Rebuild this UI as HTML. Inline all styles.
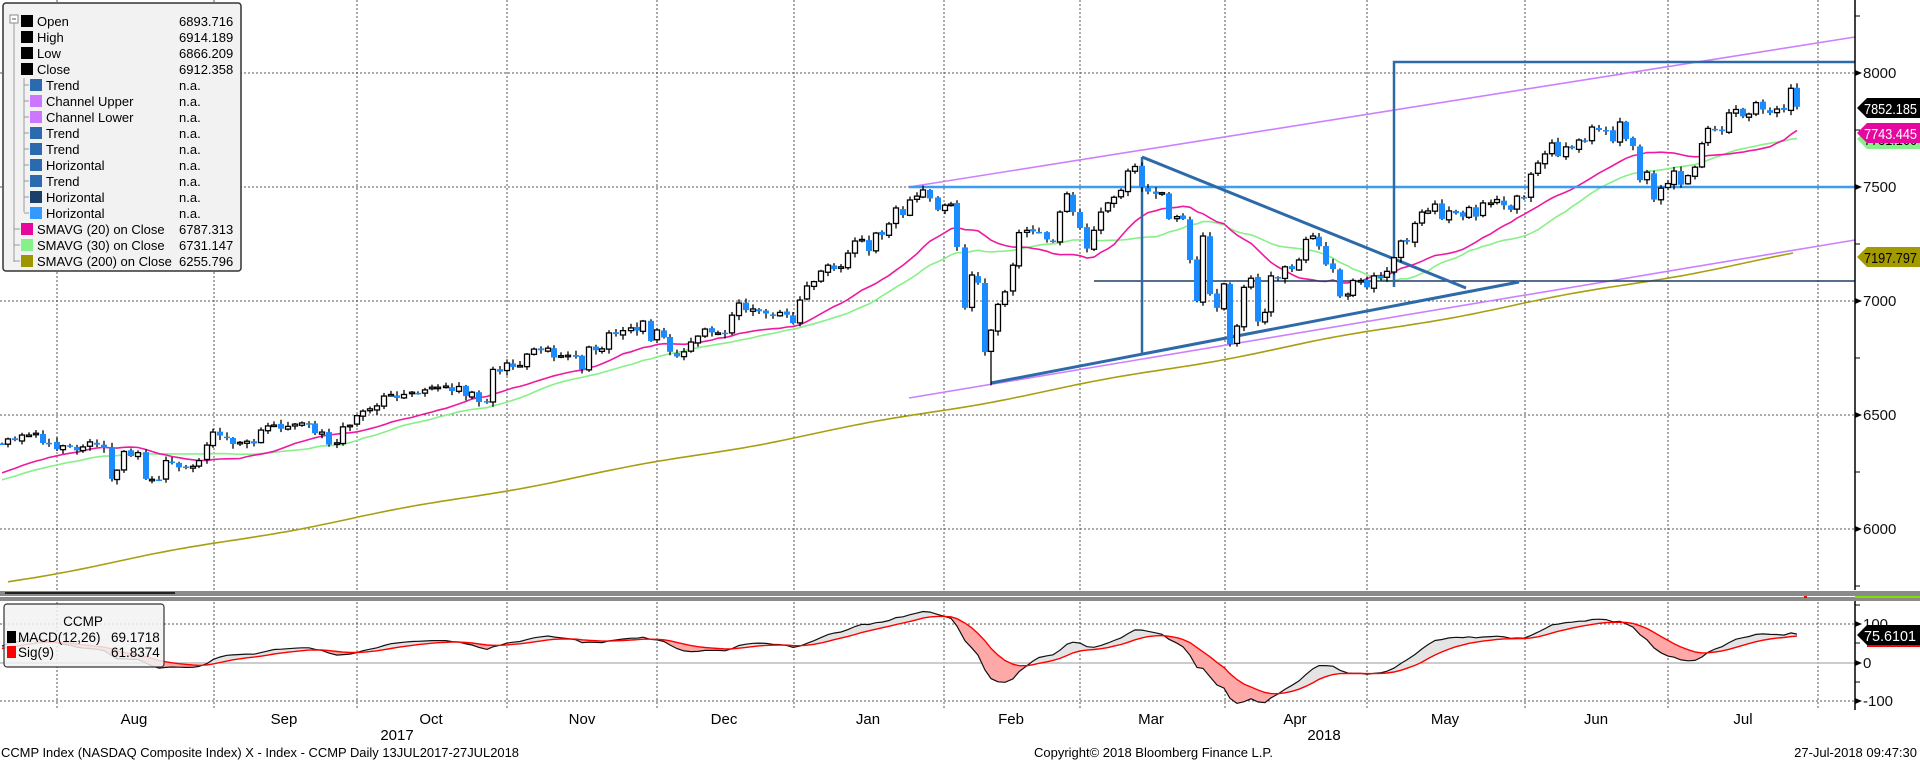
<!DOCTYPE html>
<html><head><meta charset="utf-8">
<style>
html,body{margin:0;padding:0;background:#fff;}
#w{position:relative;width:1920px;height:761px;overflow:hidden;background:#fff;font-family:"Liberation Sans",sans-serif;}
svg text{font-family:"Liberation Sans",sans-serif;}
</style></head>
<body><div id="w"><svg id="c" width="1920" height="761" xmlns="http://www.w3.org/2000/svg"></svg></div>
<script>
const K=[[2,6373],[8,6395],[15,6390],[22,6412],[29,6412],[36,6420],[43,6377],[49,6377],[57,6350],[63,6365],[70,6365],[77,6345],[83,6360],[90,6382],[97,6370],[104,6355],[112,6220],[117,6258],[124,6340],[131,6320],[138,6335],[146,6220],[152,6218],[159,6216],[166,6300],[172,6290],[179,6270],[186,6270],[193,6275],[199,6300],[207,6368],[213,6425],[220,6410],[227,6400],[233,6373],[240,6380],[247,6385],[254,6375],[261,6434],[268,6452],[274,6456],[281,6440],[288,6450],[295,6460],[302,6465],[309,6460],[315,6420],[322,6425],[329,6370],[337,6378],[343,6448],[350,6455],[357,6497],[363,6517],[370,6527],[377,6540],[384,6583],[391,6590],[397,6575],[404,6590],[412,6600],[418,6595],[425,6610],[432,6622],[438,6622],[446,6627],[452,6605],[459,6625],[466,6583],[472,6600],[479,6557],[487,6560],[493,6700],[500,6690],[507,6728],[513,6711],[520,6717],[527,6767],[534,6789],[541,6784],[548,6793],[554,6752],[561,6760],[568,6762],[576,6755],[582,6700],[589,6798],[596,6784],[602,6790],[609,6860],[616,6855],[623,6870],[631,6882],[637,6870],[643,6912],[651,6825],[657,6873],[664,6840],[670,6777],[677,6757],[684,6777],[691,6820],[698,6846],[705,6877],[712,6862],[718,6860],[725,6855],[732,6938],[739,6991],[746,6960],[753,6965],[759,6955],[766,6945],[773,6935],[780,6950],[787,6940],[793,6903],[800,7004],[807,7066],[814,7085],[821,7131],[828,7157],[834,7140],[841,7150],[848,7210],[855,7263],[862,7270],[869,7219],[876,7298],[882,7290],[889,7338],[896,7408],[903,7377],[910,7443],[917,7460],[923,7487],[930,7450],[938,7400],[945,7420],[951,7425],[957,7237],[965,6970],[972,7114],[978,7080],[985,6776],[991,6872],[998,6985],[1005,7040],[1013,7157],[1019,7300],[1027,7310],[1033,7305],[1039,7300],[1047,7270],[1053,7260],[1060,7390],[1067,7470],[1073,7390],[1080,7320],[1087,7230],[1094,7310],[1101,7390],[1108,7430],[1114,7455],[1121,7485],[1128,7570],[1135,7590],[1142,7500],[1148,7480],[1156,7470],[1162,7475],[1169,7360],[1177,7370],[1183,7360],[1190,7180],[1197,7000],[1203,7285],[1210,7030],[1217,6970],[1224,7075],[1230,6810],[1237,6890],[1244,7060],[1251,7100],[1258,6910],[1265,6950],[1271,7110],[1278,7100],[1285,7150],[1292,7140],[1299,7180],[1306,7270],[1313,7285],[1319,7240],[1326,7160],[1333,7140],[1340,7020],[1348,7030],[1353,7090],[1361,7090],[1367,7060],[1374,7110],[1381,7100],[1387,7130],[1394,7190],[1401,7263],[1407,7260],[1415,7340],[1422,7390],[1428,7395],[1435,7425],[1442,7360],[1449,7395],[1456,7385],[1463,7370],[1469,7410],[1476,7370],[1483,7430],[1491,7430],[1497,7445],[1504,7420],[1511,7400],[1517,7460],[1524,7455],[1531,7556],[1538,7605],[1545,7645],[1552,7693],[1558,7635],[1566,7676],[1572,7670],[1579,7706],[1585,7700],[1592,7763],[1599,7750],[1606,7745],[1613,7700],[1620,7785],[1626,7710],[1633,7680],[1640,7530],[1647,7565],[1654,7445],[1661,7495],[1668,7515],[1674,7570],[1681,7510],[1688,7550],[1695,7587],[1702,7690],[1708,7757],[1715,7750],[1722,7745],[1729,7825],[1736,7840],[1743,7810],[1749,7820],[1756,7870],[1763,7840],[1770,7825],[1777,7842],[1784,7838],[1791,7933],[1797,7852]];
const Y=v=>187+(7500-v)*0.228;
const MY=v=>663-v*0.385;
let s='';
const AX=1855;
const vg=[57,214,357,507,657,794,944,1080,1225,1367,1525,1668,1818];
vg.forEach(x=>{s+=`<line x1="${x}" y1="0" x2="${x}" y2="590" stroke="#555" stroke-dasharray="2,2"/>`;s+=`<line x1="${x}" y1="602" x2="${x}" y2="708" stroke="#555" stroke-dasharray="2,2"/>`;});
[8000,7500,7000,6500,6000].forEach(v=>{s+=`<line x1="0" y1="${Y(v)}" x2="${AX}" y2="${Y(v)}" stroke="#555" stroke-dasharray="2,2"/>`;});
s+=`<line x1="0" y1="624" x2="${AX}" y2="624" stroke="#555" stroke-dasharray="2,2"/><line x1="0" y1="701" x2="${AX}" y2="701" stroke="#555" stroke-dasharray="2,2"/><line x1="0" y1="663" x2="${AX}" y2="663" stroke="#bbb" stroke-width="1.5"/>`;
const pad=[];for(let i=0;i<40;i++)pad.push(6060+i*6+Math.sin(i*1.3)*25);
const cl=pad.concat(K.map(k=>k[1]));
const P=pad.length;
function sma(n,i){let a=0;for(let j=i-n+1;j<=i;j++)a+=cl[j];return a/n;}
let p200='';for(let x=8;x<=1797;x+=7){const y=583-0.1834*x+Math.sin(x/37)*1.2;p200+=(p200?'L':'M')+x+','+y.toFixed(1);}
s+=`<path d="${p200}" fill="none" stroke="#a89f10" stroke-width="1.6"/>`;
s+=`<line x1="909" y1="187" x2="${AX}" y2="37" stroke="#cc80ff" stroke-width="1.6"/>`;
s+=`<line x1="909" y1="398" x2="${AX}" y2="240" stroke="#cc80ff" stroke-width="1.6"/>`;
let p20='',p30='';
K.forEach((k,i)=>{const a=sma(20,P+i),b=sma(30,P+i);p20+=(i?'L':'M')+k[0]+','+Y(a).toFixed(1);p30+=(i?'L':'M')+k[0]+','+Y(b).toFixed(1);});
s+=`<path d="${p30}" fill="none" stroke="#88f088" stroke-width="1.6"/>`;
s+=`<path d="${p20}" fill="none" stroke="#ee1a9e" stroke-width="1.6"/>`;
s+=`<line x1="1094" y1="281" x2="${AX}" y2="281" stroke="#1f3f66" stroke-width="1.6"/>`;
s+=`<line x1="909" y1="187" x2="${AX}" y2="187" stroke="#3c9cf0" stroke-width="2.5"/>`;
s+=`<polyline points="1394,287 1394,62 ${AX},62" fill="none" stroke="#2e6aa8" stroke-width="2.5"/>`;
s+=`<line x1="1142" y1="157" x2="1466" y2="288" stroke="#2e6aa8" stroke-width="3"/>`;
s+=`<line x1="1142" y1="157" x2="1142" y2="354" stroke="#2e6aa8" stroke-width="2.5"/>`;
s+=`<line x1="991" y1="383" x2="1519" y2="282" stroke="#2e6aa8" stroke-width="3"/>`;
K.forEach((k,i)=>{const x=k[0],c=k[1],o=(i?K[i-1][1]:6380)+((i*37)%11-5);
 const w1=4+(i*53)%17,w2=4+(i*29)%19;let h=Math.max(o,c)+w1,l=Math.min(o,c)-w2;
 if(x==991)l=6630;if(x==985)l=6760;if(x==1230)l=6800;if(x==1237)l=6800;
 const yt=Y(Math.max(o,c)),yb=Y(Math.min(o,c));const bh=Math.max(1.5,yb-yt);
 s+=`<line x1="${x}" y1="${Y(h)}" x2="${x}" y2="${Y(l)}" stroke="#000" stroke-width="1.3"/>`;
 if(c>=o)s+=`<rect x="${x-2.5}" y="${yt}" width="5" height="${bh}" fill="#fff" stroke="#000" stroke-width="1.3"/>`;
 else s+=`<rect x="${x-3}" y="${yt}" width="6" height="${bh}" fill="#1a8cff"/>`;
});
function ema(arr,n){const k=2/(n+1);const r=[arr[0]];for(let i=1;i<arr.length;i++)r.push(arr[i]*k+r[i-1]*(1-k));return r;}
const e12=ema(cl,12),e26=ema(cl,26);const md=e12.map((v,i)=>v-e26[i]);const sg=ema(md,9);
let pm='',ps='';
for(let i=0;i<K.length;i++){const a=md[P+i],b=sg[P+i],x=K[i][0];
 if(i<K.length-1){const a2=md[P+i+1],b2=sg[P+i+1],x2=K[i+1][0];const col=(a+a2-b-b2)>0?'#e4e4e4':'#ffa8a8';
 s+=`<polygon points="${x},${MY(a)} ${x2},${MY(a2)} ${x2},${MY(b2)} ${x},${MY(b)}" fill="${col}" stroke="${col}" stroke-width="0.5"/>`;}
 pm+=(i?'L':'M')+x+','+MY(a).toFixed(1);ps+=(i?'L':'M')+x+','+MY(b).toFixed(1);}
s+=`<path d="${pm}" fill="none" stroke="#111" stroke-width="1.2"/><path d="${ps}" fill="none" stroke="#f00" stroke-width="1.4"/>`;
s+=`<rect x="0" y="591" width="1920" height="5" fill="#8a8a8a"/><rect x="0" y="597" width="1920" height="4" fill="#8a8a8a"/><line x1="5" y1="593" x2="175" y2="593" stroke="#000" stroke-width="1.5"/>`;
s+=`<line x1="${AX}" y1="597" x2="1920" y2="597" stroke="#7fdf00" stroke-width="2"/><rect x="1804" y="596" width="3" height="2" fill="#f00"/>`;
s+=`<line x1="${AX}" y1="0" x2="${AX}" y2="590" stroke="#000" stroke-width="1.5"/><line x1="${AX}" y1="601" x2="${AX}" y2="710" stroke="#000" stroke-width="1.5"/>`;
[[8000,'8000'],[7500,'7500'],[7000,'7000'],[6500,'6500'],[6000,'6000']].forEach(a=>{const y=Y(a[0]);s+=`<polygon points="${AX},${y-3} ${AX+7},${y} ${AX},${y+3}" fill="#000"/><text x="1863" y="${y+5}" font-size="15" fill="#111">${a[1]}</text>`;});
[8250,7750,7250,6750,6250,5750].forEach(v=>{const y=Y(v);s+=`<line x1="${AX}" y1="${y}" x2="${AX+5}" y2="${y}" stroke="#000"/>`;});
[[624,'100'],[663,'0'],[701,'-100']].forEach(a=>{s+=`<polygon points="${AX},${a[0]-3} ${AX+7},${a[0]} ${AX},${a[0]+3}" fill="#000"/><text x="1863" y="${a[0]+5}" font-size="15" fill="#111">${a[1]}</text>`;});
[605,643,682].forEach(y=>{s+=`<line x1="${AX}" y1="${y}" x2="${AX+5}" y2="${y}" stroke="#000"/>`;});
function tag(y,txt,bg,fg){s+=`<polygon points="${AX+2},${y} ${AX+12},${y-10} 1920,${y-10} 1920,${y+10} ${AX+12},${y+10}" fill="${bg}"/><text x="1864" y="${y+6}" font-size="15" fill="${fg}" textLength="53" lengthAdjust="spacingAndGlyphs">${txt}</text>`;}
tag(139,'7731.166','#88f088','#000');
tag(108,'7852.185','#000','#fff');
tag(133,'7743.445','#e6089e','#fff');
tag(257,'7197.797','#a39a00','#000');
s+=`<polygon points="${AX+2},635 ${AX+12},625 1920,625 1920,645 ${AX+12},645" fill="#000"/><text x="1864" y="641" font-size="15" fill="#fff" textLength="52" lengthAdjust="spacingAndGlyphs">75.6101</text><line x1="${AX+12}" y1="646" x2="1920" y2="646" stroke="#f00" stroke-width="2"/>`;
s+=`<rect x="3" y="3" width="238" height="268" rx="3" fill="#f2f2f2" stroke="#333" stroke-width="1.5"/>`;
s+=`<rect x="10" y="15" width="8" height="8" fill="#fff" stroke="#888"/><line x1="12" y1="19" x2="16" y2="19" stroke="#555"/>`;
s+=`<line x1="14" y1="23" x2="14" y2="262" stroke="#999"/><line x1="24" y1="78" x2="24" y2="212" stroke="#999"/>`;
const L=[['Open','6893.716','#000',0],['High','6914.189','#000',0],['Low','6866.209','#000',0],['Close','6912.358','#000',0],['Trend','n.a.','#2a6aad',1],['Channel Upper','n.a.','#cc77ff',1],['Channel Lower','n.a.','#cc77ff',1],['Trend','n.a.','#2a6aad',1],['Trend','n.a.','#2a6aad',1],['Horizontal','n.a.','#2a6aad',1],['Trend','n.a.','#2a6aad',1],['Horizontal','n.a.','#1a3f6b',1],['Horizontal','n.a.','#3399ff',1],['SMAVG (20) on Close','6787.313','#e6089e',0],['SMAVG (30) on Close','6731.147','#88f088',0],['SMAVG (200) on Close','6255.796','#9c9600',0]];
L.forEach((r,i)=>{const y=21+i*16;const ix=r[3]?30:21;
 if(r[3])s+=`<line x1="24" y1="${y}" x2="29" y2="${y}" stroke="#999"/>`;else if(i>12)s+=`<line x1="14" y1="${y}" x2="20" y2="${y}" stroke="#999"/>`;
 s+=`<rect x="${ix}" y="${y-6}" width="12" height="12" fill="${r[2]}"/><text x="${ix+16}" y="${y+5}" font-size="13" fill="#000">${r[0]}</text><text x="179" y="${y+5}" font-size="13" fill="#000">${r[1]}</text>`;});
s+=`<rect x="4" y="604" width="160" height="63" rx="3" fill="#f2f2f2" fill-opacity="0.85" stroke="#333" stroke-width="1.2"/>`;
s+=`<text x="83" y="626" font-size="13.5" text-anchor="middle">CCMP</text><rect x="7" y="631" width="9" height="12" fill="#000"/><text x="18" y="642" font-size="13.5">MACD(12,26)</text><text x="111" y="642" font-size="13.5">69.1718</text><rect x="7" y="646" width="9" height="12" fill="#f00"/><text x="18" y="657" font-size="13.5">Sig(9)</text><text x="111" y="657" font-size="13.5">61.8374</text>`;
[['Aug',134],['Sep',284],['Oct',431],['Nov',582],['Dec',724],['Jan',868],['Feb',1011],['Mar',1151],['Apr',1295],['May',1445],['Jun',1596],['Jul',1743]].forEach(m=>{s+=`<text x="${m[1]}" y="724" font-size="15" text-anchor="middle">${m[0]}</text>`;});
s+=`<text x="397" y="740" font-size="15" text-anchor="middle">2017</text><text x="1324" y="740" font-size="15" text-anchor="middle">2018</text>`;
s+=`<text x="1" y="757" font-size="13" textLength="518" lengthAdjust="spacingAndGlyphs">CCMP Index (NASDAQ Composite Index) X - Index - CCMP  Daily 13JUL2017-27JUL2018</text>`;
s+=`<text x="1034" y="757" font-size="13" textLength="239" lengthAdjust="spacingAndGlyphs">Copyright© 2018 Bloomberg Finance L.P.</text>`;
s+=`<text x="1917" y="757" font-size="13" text-anchor="end">27-Jul-2018 09:47:30</text>`;
document.getElementById('c').innerHTML=s;
</script>
</body></html>
